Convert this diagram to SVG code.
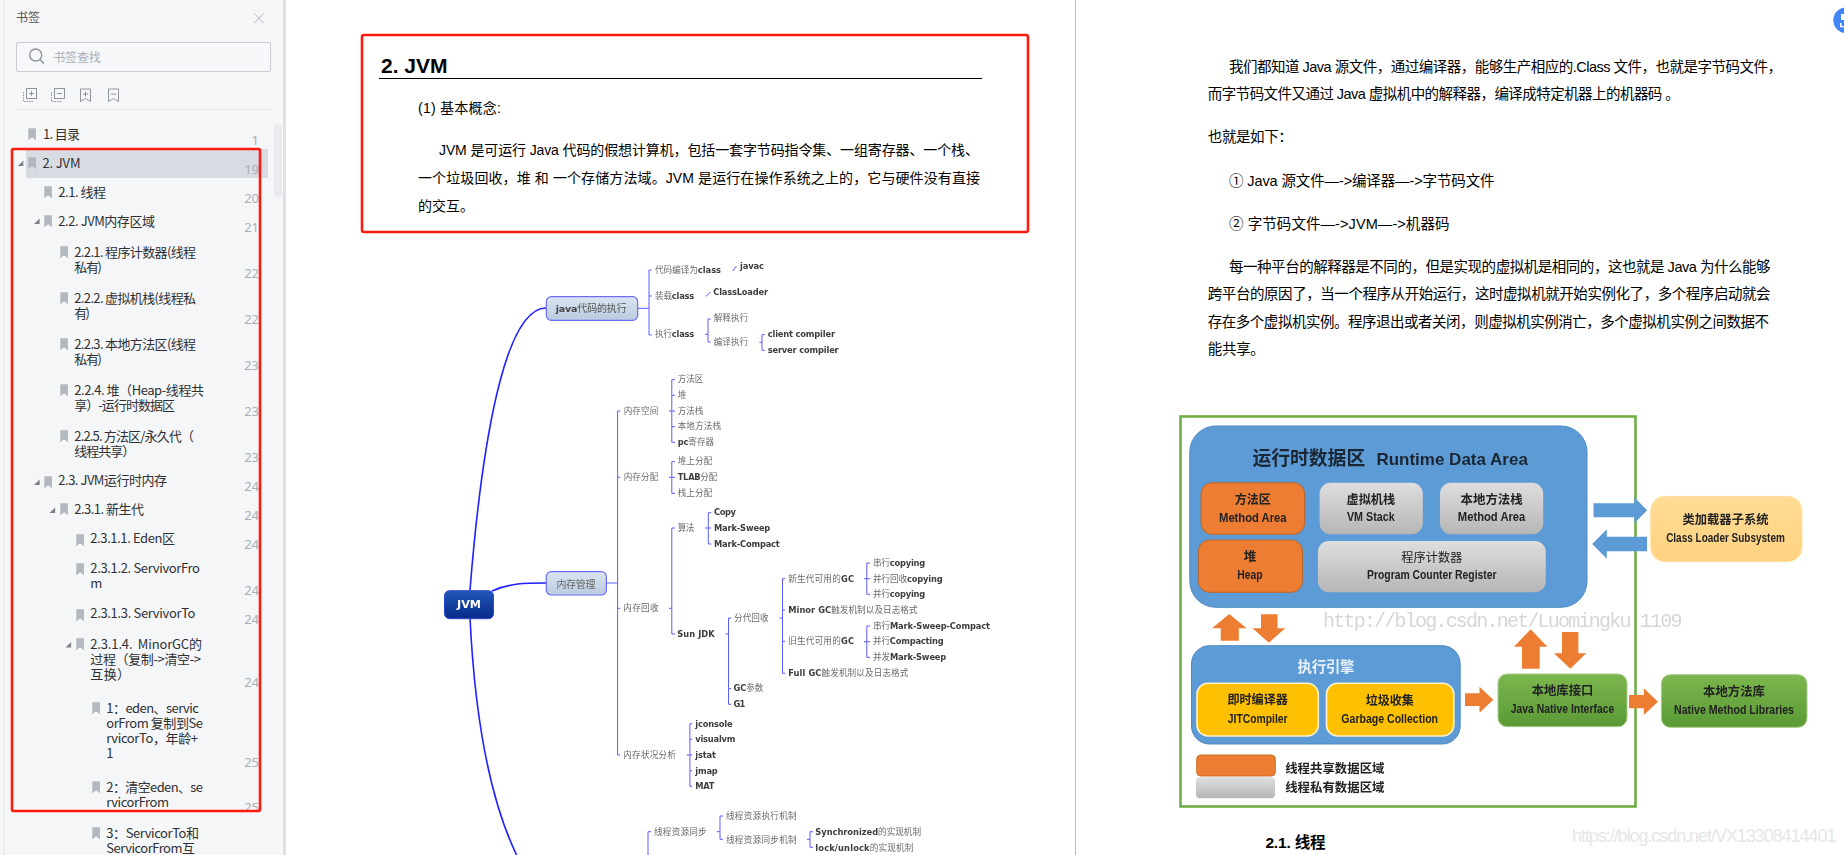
<svg xmlns="http://www.w3.org/2000/svg" width="1844" height="855" viewBox="0 0 1844 855">
<style>
text{font-family:"Noto Sans CJK SC","Noto Sans",sans-serif;white-space:pre}
.s{font-size:13px;fill:#2f3033}
.n{font-size:13px;fill:#a9aeb8;text-anchor:end;font-family:"Noto Sans",sans-serif}
.bm{fill:#b3b7bf}
.tri{fill:#7c8188}
.ico{fill:none;stroke:#8f949c;stroke-width:1}
.p{font-size:14px;fill:#000;font-family:"Liberation Sans","Noto Sans CJK SC",sans-serif}
.q{font-size:14.5px;fill:#000;font-family:"Liberation Sans","Noto Sans CJK SC",sans-serif}
.mm{font-family:"DejaVu Sans","Noto Sans CJK SC",sans-serif;font-size:8.6px;fill:#6a6a6a}
.mm tspan,.mb{font-weight:700;font-size:8.3px;fill:#3c3c3c}
.mb{font-family:"DejaVu Sans","Noto Sans CJK SC",sans-serif}
.c{fill:none;stroke:#5c5cff;stroke-width:1}
.m{fill:none;stroke:#2020ff;stroke-width:1.6}
.node{stroke:#6c6cf8;stroke-width:1.2}
.a{font-family:"Liberation Sans","Noto Sans CJK SC",sans-serif;font-weight:700;fill:#222;text-anchor:middle}
.z{font-size:12.5px}
.e{font-size:12.5px}
.or{fill:#ed7d31}
.bl{fill:#5b9bd5}
</style>
<defs>
<path id="bk" d="M0 0h7.6v12l-3.8-3-3.8 3z"/>
<path id="tr" d="M5.6 0v5.6h-5.6z"/>
<linearGradient id="gl" x1="0" y1="0" x2="0" y2="1"><stop offset="0" stop-color="#dbe5f1"/><stop offset="1" stop-color="#b9cbdf"/></linearGradient>
<linearGradient id="gj" x1="0" y1="0" x2="0" y2="1"><stop offset="0" stop-color="#2058b8"/><stop offset="1" stop-color="#082a88"/></linearGradient>
<linearGradient id="gg" x1="0" y1="0" x2="0" y2="1"><stop offset="0" stop-color="#dedede"/><stop offset="1" stop-color="#b6b6b6"/></linearGradient>
<linearGradient id="gn" x1="0" y1="0" x2="0" y2="1"><stop offset="0" stop-color="#7cb64e"/><stop offset="1" stop-color="#5a9a35"/></linearGradient>
<linearGradient id="gy" x1="0" y1="0" x2="0" y2="1"><stop offset="0" stop-color="#ffdc95"/><stop offset="1" stop-color="#ffd280"/></linearGradient>
<filter id="soft" x="-2%" y="-2%" width="104%" height="104%"><feGaussianBlur stdDeviation="0.4"/></filter>
</defs>
<rect width="1844" height="855" fill="#fff"/>

<g id="sidebar">
<rect x="0" y="0" width="283" height="855" fill="#f5f6f8"/>
<rect x="3.5" y="0" width="1" height="855" fill="#e4e6ea"/>
<rect x="283" y="0" width="3" height="855" fill="#dfe1e5"/>
<rect x="274" y="124" width="8" height="73" rx="4" fill="#e8eaed"/>
<text x="16" y="22" style="font-size:12px;fill:#555">书签</text>
<path d="M254 13.3l10 10M264 13.3l-10 10" stroke="#b4b8c0" fill="none"/>
<rect x="16.5" y="42.5" width="254" height="29" rx="1.5" fill="#f7f8fa" stroke="#c9cdd2"/>
<circle cx="35.7" cy="55" r="6" fill="none" stroke="#8f949c" stroke-width="1.4"/>
<path d="M40 59.5l4 4" stroke="#8f949c" stroke-width="1.6"/>
<text x="53.3" y="62" textLength="47.4" style="font-size:12px;fill:#a9aeb8">书签查找</text>
<g class="ico">
<path d="M23.5 92v9.5h10" stroke-dasharray="1.5 1"/><rect x="26.5" y="88.5" width="10" height="10"/><path d="M29 93.5h5M31.5 91v5"/>
<path d="M51.5 92v9.5h10" stroke-dasharray="1.5 1"/><rect x="54.5" y="88.5" width="10" height="10"/><path d="M57 93.5h5"/>
<path d="M80.5 89h10v12.5l-5-3-5 3zM83 94h5M85.5 91.500v5"/>
<path d="M108.500 89h10v12.500l-5-3-5 3zM111 94h5"/>
</g>
<rect x="16" y="109" width="255" height="1" fill="#e3e5e8"/>
<rect x="26" y="149" width="242" height="29" fill="#d8dce2"/>

<use href="#tr" class="tri" x="17.800" y="160.500"/>
<use href="#tr" class="tri" x="34" y="218.500"/>
<use href="#tr" class="tri" x="34" y="479.500"/>
<use href="#tr" class="tri" x="49.500" y="507.500"/>
<use href="#tr" class="tri" x="65.500" y="642"/>

<use href="#bk" class="bm" x="28.300" y="128.300"/>
<use href="#bk" class="bm" x="28.300" y="157.300"/>
<use href="#bk" class="bm" x="44.300" y="186.300"/>
<use href="#bk" class="bm" x="44.300" y="215.300"/>
<use href="#bk" class="bm" x="60.300" y="246.300"/>
<use href="#bk" class="bm" x="60.300" y="292.300"/>
<use href="#bk" class="bm" x="60.300" y="338.300"/>
<use href="#bk" class="bm" x="60.300" y="384.300"/>
<use href="#bk" class="bm" x="60.300" y="430.300"/>
<use href="#bk" class="bm" x="44.300" y="476.300"/>
<use href="#bk" class="bm" x="60.300" y="503.300"/>
<use href="#bk" class="bm" x="76.300" y="534.300"/>
<use href="#bk" class="bm" x="76.300" y="563.300"/>
<use href="#bk" class="bm" x="76.300" y="609.300"/>
<use href="#bk" class="bm" x="76.300" y="638.300"/>
<use href="#bk" class="bm" x="92.300" y="702.300"/>
<use href="#bk" class="bm" x="92.300" y="781.300"/>
<use href="#bk" class="bm" x="92.300" y="827.300"/>

<text class="s" x="43" y="139" textLength="37">1. 目录</text>
<text class="s" x="42.500" y="168" textLength="38">2. JVM</text>
<text class="s" x="58.300" y="197" textLength="47.700">2.1. 线程</text>
<text class="s" x="58.300" y="226" textLength="96.700">2.2. JVM内存区域</text>
<text class="s" x="74.300" y="257" textLength="121.700">2.2.1. 程序计数器(线程</text>
<text class="s" x="74.300" y="272" textLength="27.700">私有)</text>
<text class="s" x="74.300" y="303" textLength="121.700">2.2.2. 虚拟机栈(线程私</text>
<text class="s" x="74.300" y="318" textLength="15.700">有)</text>
<text class="s" x="74.300" y="349" textLength="121.700">2.2.3. 本地方法区(线程</text>
<text class="s" x="74.300" y="364" textLength="27.700">私有)</text>
<text class="s" x="74.300" y="395" textLength="129.700">2.2.4. 堆（Heap-线程共</text>
<text class="s" x="74.300" y="410" textLength="100.700">享）-运行时数据区</text>
<text class="s" x="74.300" y="441" textLength="119.700">2.2.5. 方法区/永久代（</text>
<text class="s" x="74.300" y="456" textLength="61">线程共享）</text>
<text class="s" x="58.300" y="485" textLength="108.700">2.3. JVM运行时内存</text>
<text class="s" x="74.300" y="514" textLength="69.700">2.3.1. 新生代</text>
<text class="s" x="90.300" y="543" textLength="84.700">2.3.1.1. Eden区</text>
<text class="s" x="90.300" y="573" textLength="109.700">2.3.1.2. ServivorFro</text>
<text class="s" x="90.300" y="588">m</text>
<text class="s" x="90.300" y="618" textLength="105.200">2.3.1.3. ServivorTo</text>
<text class="s" x="90.300" y="649" textLength="111.700">2.3.1.4.  MinorGC的</text>
<text class="s" x="90.300" y="664" textLength="110.700">过程（复制-&gt;清空-&gt;</text>
<text class="s" x="90.300" y="679" textLength="39.700">互换）</text>
<text class="s" x="106.300" y="713" textLength="92.700">1：eden、servic</text>
<text class="s" x="106.300" y="728" textLength="96.700">orFrom 复制到Se</text>
<text class="s" x="106.300" y="743" textLength="91.700">rvicorTo，年龄+</text>
<text class="s" x="106.300" y="758">1</text>
<text class="s" x="106.300" y="792" textLength="96.700">2：清空eden、se</text>
<text class="s" x="106.300" y="806.500" textLength="62.700">rvicorFrom</text>
<text class="s" x="106.300" y="838" textLength="92.700">3：ServicorTo和</text>
<text class="s" x="106.300" y="853" textLength="88.700">ServicorFrom互</text>

<text class="n" x="259" y="145">1</text>
<text class="n" x="259" y="174">19</text>
<text class="n" x="259" y="203">20</text>
<text class="n" x="259" y="232">21</text>
<text class="n" x="259" y="278">22</text>
<text class="n" x="259" y="324">22</text>
<text class="n" x="259" y="370">23</text>
<text class="n" x="259" y="416">23</text>
<text class="n" x="259" y="462">23</text>
<text class="n" x="259" y="491">24</text>
<text class="n" x="259" y="520">24</text>
<text class="n" x="259" y="549">24</text>
<text class="n" x="259" y="595">24</text>
<text class="n" x="259" y="624">24</text>
<text class="n" x="259" y="687">24</text>
<text class="n" x="259" y="767">25</text>
<text class="n" x="259" y="812">25</text>
<rect x="12" y="149" width="248" height="662" rx="1.500" fill="none" stroke="#ff1a0e" stroke-width="2.600"/>
</g>

<rect id="page-divider" x="1075" y="0" width="1" height="855" fill="#bdbdbd"/>

<g id="page-intro">
<text x="381" y="73" style="font-family:'Liberation Sans',sans-serif;font-weight:700;font-size:21px;fill:#000">2. JVM</text>
<rect x="379" y="78" width="603" height="1" fill="#000"/>
<text class="p" x="418" y="113" textLength="83">(1) 基本概念:</text>
<text class="p" x="439" y="155" textLength="540">JVM 是可运行 Java 代码的假想计算机，包括一套字节码指令集、一组寄存器、一个栈、</text>
<text class="p" x="418" y="183" textLength="562">一个垃圾回收，堆 和 一个存储方法域。JVM 是运行在操作系统之上的，它与硬件没有直接</text>
<text class="p" x="418" y="211" textLength="56">的交互。</text>
<rect x="362" y="35" width="666" height="197" rx="2" fill="none" stroke="#ff1a0e" stroke-width="2.600"/>
</g>

<g id="mindmap" filter="url(#soft)">
<g id="connectors">
<path class="m" d="M470 590C482 440 505 308 546 308"/>
<path class="m" d="M492 591C510 583 525 583 546 583"/>
<path class="m" d="M470 618C475 720 490 800 517 856"/>
<path class="c" d="M637.700 308.300H649M651.700 270H649V335H651.700M649 296H651.700"/>
<path class="c" d="M732.300 270.700C735 270.700 733.500 266.700 736.700 266.700"/>
<path class="c" d="M705.700 296C709 296 707 292.700 710.700 292.700"/>
<path class="c" d="M705 334.300H708M710.700 319H708V342H710.700"/>
<path class="c" d="M759.300 342.300H762M764.700 334.700H762V350.300H764.700"/>
<path class="c" d="M606.400 583H617.600M620.200 411H617.600V755H620.200M617.600 477.300H620.200M617.600 608.300H620.200"/>
<path class="c" d="M669 411H675M675 379.700H671.800V442.300H675M671.800 395.300H675M671.800 426.700H675"/>
<path class="c" d="M669 477.300H675M675 461.700H671.800V493.300H675"/>
<path class="c" d="M669 608.300H671.800M675 528H671.800V634H675"/>
<path class="c" d="M705.300 528H711.300M711.300 512.700H708.300V544H711.300"/>
<path class="c" d="M725.400 634H728.500M731.200 618H728.500V704.300H731.200M728.500 688.700H731.200"/>
<path class="c" d="M779.400 618H782.500M785.100 578.700H782.500V673.300H785.100M782.500 610H785.100M782.500 641.300H785.100"/>
<path class="c" d="M864 578.700H870M870 563H866.800V594.300H870"/>
<path class="c" d="M864 641.700H870M870 626H866.800V657.300H870"/>
<path class="c" d="M686.800 755H692.200M692.200 723.700H689.900V786.300H692.200M689.900 739.300H692.200M689.900 770.700H692.200"/>
<path class="c" d="M651 831.700H648V855"/>
<path class="c" d="M716.700 831.700H720M723 816H720V839.300H723"/>
<path class="c" d="M807 839.300H810M813 831.700H810V847.300H813"/>
</g>
<g id="node-jvm">
<rect x="444.500" y="590.700" width="49" height="28" rx="5" fill="url(#gj)" stroke="#2a48d0"/>
<text x="469" y="608.300" text-anchor="middle" textLength="24" lengthAdjust="spacingAndGlyphs" style="font-family:'DejaVu Sans',sans-serif;font-weight:700;font-size:10.500px;fill:#fff">JVM</text>
</g>
<g id="node-java">
<rect class="node" x="546.300" y="296.700" width="91.400" height="23.600" rx="5" fill="url(#gl)"/>
<text class="mm" x="555.700" y="311.700" textLength="71" style="font-size:10px;fill:#555"><tspan style="font-size:9.500px;fill:#444">java</tspan>代码的执行</text>
</g>
<g id="node-memory">
<rect class="node" x="546.300" y="571.700" width="60.100" height="23.300" rx="5" fill="url(#gl)"/>
<text class="mm" x="556.400" y="587.700" textLength="39" style="font-size:10px;fill:#666">内存管理</text>
</g>
<g id="node-leaves">
<text class="mm" x="655" y="272.700" textLength="66">代码编译为<tspan>class</tspan></text>
<text class="mb" x="740" y="269.300" textLength="24">javac</text>
<text class="mm" x="655" y="299" textLength="39.300">装载<tspan>class</tspan></text>
<text class="mb" x="713.300" y="295.300" textLength="54.700">ClassLoader</text>
<text class="mm" x="655" y="337.300" textLength="39.300">执行<tspan>class</tspan></text>
<text class="mm" x="713.700" y="321.300" textLength="34.600">解释执行</text>
<text class="mm" x="713.700" y="344.700" textLength="34.600">编译执行</text>
<text class="mb" x="767.700" y="337.300" textLength="67.300">client compiler</text>
<text class="mb" x="767.700" y="353" textLength="71">server compiler</text>
<text class="mm" x="623.700" y="414" textLength="34.600">内存空间</text>
<text class="mm" x="677.700" y="382.300" textLength="25.600">方法区</text>
<text class="mm" x="677.700" y="398">堆</text>
<text class="mm" x="677.700" y="414" textLength="25.600">方法栈</text>
<text class="mm" x="677.700" y="429.300" textLength="43.300">本地方法栈</text>
<text class="mm" x="677.700" y="445.300" textLength="36.300"><tspan>pc</tspan>寄存器</text>
<text class="mm" x="623.700" y="480" textLength="34.600">内存分配</text>
<text class="mm" x="677.700" y="464.300" textLength="34.600">堆上分配</text>
<text class="mm" x="677.700" y="480" textLength="39.600"><tspan>TLAB</tspan>分配</text>
<text class="mm" x="677.700" y="496" textLength="34.600">栈上分配</text>
<text class="mm" x="677.700" y="531" textLength="16.600">算法</text>
<text class="mb" x="714" y="515.300" textLength="22">Copy</text>
<text class="mb" x="714" y="531" textLength="56.300">Mark-Sweep</text>
<text class="mb" x="714" y="546.700" textLength="65.800">Mark-Compact</text>
<text class="mm" x="623.300" y="611.300" textLength="35.200">内存回收</text>
<text class="mb" x="677.200" y="636.700" textLength="37.500">Sun JDK</text>
<text class="mm" x="733.900" y="620.700" textLength="34.800">分代回收</text>
<text class="mm" x="788.200" y="581.700" textLength="65.800">新生代可用的<tspan>GC</tspan></text>
<text class="mm" x="873" y="566" textLength="52.200">串行<tspan>copying</tspan></text>
<text class="mm" x="873" y="581.700" textLength="69.800">并行回收<tspan>copying</tspan></text>
<text class="mm" x="873" y="597.300" textLength="52.200">并行<tspan>copying</tspan></text>
<text class="mm" x="788.200" y="613" textLength="129.400"><tspan>Minor GC</tspan>触发机制以及日志格式</text>
<text class="mm" x="788.200" y="644.300" textLength="65.800">旧生代可用的<tspan>GC</tspan></text>
<text class="mm" x="873" y="628.700" textLength="117">串行<tspan>Mark-Sweep-Compact</tspan></text>
<text class="mm" x="873" y="644.300" textLength="70.600">并行<tspan>Compacting</tspan></text>
<text class="mm" x="873" y="660" textLength="73.300">并发<tspan>Mark-Sweep</tspan></text>
<text class="mm" x="788.200" y="676" textLength="120.200"><tspan>Full GC</tspan>触发机制以及日志格式</text>
<text class="mm" x="733.500" y="691.300" textLength="29.800"><tspan>GC</tspan>参数</text>
<text class="mb" x="733.500" y="707.300" textLength="11.800">G1</text>
<text class="mm" x="623.300" y="758" textLength="52.700">内存状况分析</text>
<text class="mb" x="695.200" y="726.700" textLength="37.500">jconsole</text>
<text class="mb" x="695.200" y="742.300" textLength="40.200">visualvm</text>
<text class="mb" x="695.200" y="758" textLength="20.700">jstat</text>
<text class="mb" x="695.200" y="774" textLength="22.600">jmap</text>
<text class="mb" x="695.200" y="789.300" textLength="19.100">MAT</text>
<text class="mm" x="654" y="834.700" textLength="52.700">线程资源同步</text>
<text class="mm" x="726" y="819" textLength="70.700">线程资源执行机制</text>
<text class="mm" x="726" y="842.700" textLength="70.700">线程资源同步机制</text>
<text class="mm" x="815.300" y="834.700" textLength="105.700"><tspan>Synchronized</tspan>的实现机制</text>
<text class="mm" x="815.300" y="850.700" textLength="98"><tspan>lock/unlock</tspan>的实现机制</text>
</g>
</g>

<g id="page-text">
<text class="q" x="1229" y="71.700" textLength="553">我们都知道 Java 源文件，通过编译器，能够生产相应的.Class 文件，也就是字节码文件，</text>
<text class="q" x="1207.800" y="99" textLength="472">而字节码文件又通过 Java 虚拟机中的解释器，编译成特定机器上的机器码 。</text>
<text class="q" x="1207.800" y="141.700" textLength="85">也就是如下：</text>
<text class="q" x="1229" y="185.700" textLength="265.600">① Java 源文件—-&gt;编译器—-&gt;字节码文件</text>
<text class="q" x="1229" y="229" textLength="220.500">② 字节码文件—-&gt;JVM—-&gt;机器码</text>
<text class="q" x="1229" y="272.300" textLength="541.600">每一种平台的解释器是不同的，但是实现的虚拟机是相同的，这也就是 Java 为什么能够</text>
<text class="q" x="1207.800" y="299.300" textLength="562.800">跨平台的原因了，当一个程序从开始运行，这时虚拟机就开始实例化了，多个程序启动就会</text>
<text class="q" x="1207.800" y="326.700" textLength="561.200">存在多个虚拟机实例。程序退出或者关闭，则虚拟机实例消亡，多个虚拟机实例之间数据不</text>
<text class="q" x="1207.800" y="354" textLength="57">能共享。</text>
<text x="1265.400" y="848.300" textLength="60.200" style="font-family:'Liberation Sans','Noto Sans CJK SC',sans-serif;font-weight:700;font-size:15.500px;fill:#000">2.1. 线程</text>
<text x="1572" y="841.700" textLength="264.400" style="font-family:'Liberation Sans',sans-serif;font-size:18px;fill:#e6e6e6">https://blog.csdn.net/VX13308414401</text>
</g>

<g id="architecture" filter="url(#soft)">
<rect x="1180.500" y="416.500" width="455" height="390" fill="#fff" stroke="#70ad47" stroke-width="2.600"/>
<g id="node-runtime">
<rect x="1189.800" y="426" width="397.200" height="181.300" rx="26" fill="#5b9bd5" stroke="#4f8abf"/>
<text class="a" y="465" style="font-size:18.800px;fill:#1c2733;text-anchor:start"><tspan x="1252.500">运行时数据区</tspan><tspan x="1376.400" style="font-size:17px">Runtime Data Area</tspan></text>
</g>
<g id="node-method-area">
<rect x="1201" y="482.700" width="103.600" height="51.600" rx="11" fill="#ed7d31" stroke="#b8652c"/>
<text class="a z" x="1252.800" y="504" textLength="36" lengthAdjust="spacingAndGlyphs">方法区</text>
<text class="a e" x="1252.800" y="521.700" textLength="67.500" lengthAdjust="spacingAndGlyphs">Method Area</text>
</g>
<g id="node-vm-stack">
<rect x="1319.600" y="482.700" width="103.200" height="51.600" rx="11" fill="url(#gg)"/>
<text class="a z" x="1370.800" y="504" textLength="48.600" lengthAdjust="spacingAndGlyphs">虚拟机栈</text>
<text class="a e" x="1370.800" y="521.300" textLength="47.700" lengthAdjust="spacingAndGlyphs">VM Stack</text>
</g>
<g id="node-native-stack">
<rect x="1440" y="482.700" width="103.200" height="51.600" rx="11" fill="url(#gg)"/>
<text class="a z" x="1491.600" y="504" textLength="62" lengthAdjust="spacingAndGlyphs">本地方法栈</text>
<text class="a e" x="1491.600" y="521.300" textLength="67.500" lengthAdjust="spacingAndGlyphs">Method Area</text>
</g>
<g id="node-heap">
<rect x="1198.400" y="540" width="104" height="52.300" rx="11" fill="#ed7d31" stroke="#b8652c"/>
<text class="a z" x="1250" y="561.300">堆</text>
<text class="a e" x="1250" y="579.300" textLength="25.400" lengthAdjust="spacingAndGlyphs">Heap</text>
</g>
<g id="node-pc">
<rect x="1317.900" y="541" width="227.900" height="51.300" rx="11" fill="url(#gg)"/>
<text class="a z" x="1431.800" y="561.700" textLength="61" lengthAdjust="spacingAndGlyphs" style="font-weight:400">程序计数器</text>
<text class="a e" x="1431.800" y="579.300" textLength="129.400" lengthAdjust="spacingAndGlyphs">Program Counter Register</text>
</g>
<g id="node-exec">
<rect x="1191.500" y="645.700" width="268.700" height="98.300" rx="18" fill="#5b9bd5" stroke="#4f8abf"/>
<text class="a" x="1326" y="672.300" textLength="57" style="font-size:14.500px;fill:#e8f1fa">执行引擎</text>
</g>
<g id="node-jit">
<rect x="1197" y="683.300" width="121.300" height="52.700" rx="11" fill="#ffc000" stroke="#fff2cc" stroke-width="1.600"/>
<text class="a z" x="1257.700" y="704.300" textLength="60.600" lengthAdjust="spacingAndGlyphs">即时编译器</text>
<text class="a e" x="1257.700" y="722.700" textLength="59.800" lengthAdjust="spacingAndGlyphs">JITCompiler</text>
</g>
<g id="node-gc">
<rect x="1326.500" y="683.300" width="127.300" height="52.700" rx="11" fill="#ffc000" stroke="#fff2cc" stroke-width="1.600"/>
<text class="a z" x="1389.700" y="705.300" textLength="48" lengthAdjust="spacingAndGlyphs">垃圾收集</text>
<text class="a e" x="1389.700" y="723.300" textLength="96.700" lengthAdjust="spacingAndGlyphs">Garbage Collection</text>
</g>
<g id="node-jni">
<rect x="1498" y="674" width="129" height="52.700" rx="9" fill="url(#gn)" stroke="#a5cc88"/>
<text class="a z" x="1562.500" y="695" textLength="61.500" lengthAdjust="spacingAndGlyphs">本地库接口</text>
<text class="a e" x="1562.500" y="713.300" textLength="103.600" lengthAdjust="spacingAndGlyphs">Java Native Interface</text>
</g>
<g id="node-native-lib">
<rect x="1661.400" y="674.700" width="145.600" height="52.600" rx="9" fill="url(#gn)" stroke="#a5cc88"/>
<text class="a z" x="1734" y="695.700" textLength="62" lengthAdjust="spacingAndGlyphs">本地方法库</text>
<text class="a e" x="1734" y="714" textLength="120" lengthAdjust="spacingAndGlyphs">Native Method Libraries</text>
</g>
<g id="node-classloader">
<rect x="1650.700" y="496.300" width="151.300" height="65.400" rx="14" fill="url(#gy)" stroke="#ffe2a8"/>
<text class="a z" x="1725.500" y="524" textLength="86" lengthAdjust="spacingAndGlyphs">类加载器子系统</text>
<text class="a e" x="1725.500" y="542.300" textLength="118.700" lengthAdjust="spacingAndGlyphs">Class Loader Subsystem</text>
</g>
<g id="arrows">
<path class="or" d="M1229.300 614L1246.500 628.300H1238.800V640.700H1220.700V628.300H1212z"/>
<path class="or" d="M1261 614.300H1277.500V628.300H1285.200L1268.900 642.700L1252.500 628.300H1261z"/>
<path class="or" d="M1465 693.300H1479.500V686.700L1493.300 699.700L1479.500 712.700V706H1465z"/>
<path class="or" d="M1530.700 629.300L1547.500 646.700H1539.700V668.700H1522V646.700H1514z"/>
<path class="or" d="M1562 632H1578.400V653.300H1586.200L1570.300 668.700L1554 653.300H1562z"/>
<path class="or" d="M1629 695H1643.800V688.300L1658 701.700L1643.800 715V708.300H1629z"/>
<path class="bl" d="M1593.500 503.300H1634.300V497.300L1647.200 510.300L1634.300 523.300V517.300H1593.500z"/>
<path class="bl" d="M1647 536.700H1606.800V529.300L1592.200 544L1606.800 558.700V551.300H1647z"/>
</g>
<g id="legend">
<rect x="1196.700" y="755" width="78.600" height="21" rx="4" fill="#ed7d31" stroke="#c9702f"/>
<rect x="1196" y="777.300" width="79" height="21" rx="4" fill="url(#gg)"/>
<text class="a z" x="1285.200" y="773.300" textLength="99.300" lengthAdjust="spacingAndGlyphs" style="text-anchor:start">线程共享数据区域</text>
<text class="a z" x="1285.200" y="792" textLength="99.300" lengthAdjust="spacingAndGlyphs" style="text-anchor:start">线程私有数据区域</text>
</g>
<text id="watermark" x="1323" y="626.700" textLength="359.500" style="font-family:'Liberation Mono',monospace;font-size:20px;fill:#d4d6d8">http://blog.csdn.net/Luomingku 1109</text>
</g>

<g id="corner-badge">
<circle cx="1846.300" cy="20.300" r="13" fill="#4285f4"/>
<path d="M1841 14h3v6h-3zM1840 23h1.500v3h2.500v1.300h-4z" fill="#fff"/>
</g>
</svg>
